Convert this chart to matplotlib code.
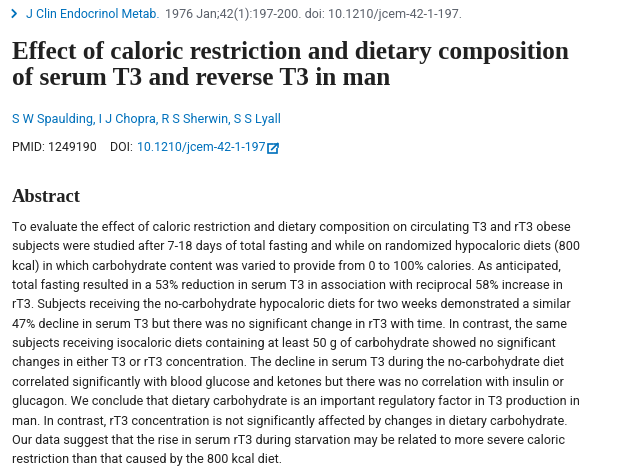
import matplotlib
matplotlib.use("Agg")
import matplotlib.pyplot as plt
from matplotlib.patches import Rectangle

# page content
journal = "J Clin Endocrinol Metab."
citation = "1976 Jan;42(1):197-200. doi: 10.1210/jcem-42-1-197."
title_lines = ["Effect of caloric restriction and dietary composition",
               "of serum T3 and reverse T3 in man"]
authors = "S W Spaulding, I J Chopra, R S Sherwin, S S Lyall"
pmid = "PMID: 1249190"
doi_label = "DOI:"
doi = "10.1210/jcem-42-1-197"
heading = "Abstract"
abstract_lines = [
    "To evaluate the effect of caloric restriction and dietary composition on circulating T3 and rT3 obese",
    "subjects were studied after 7-18 days of total fasting and while on randomized hypocaloric diets (800",
    "kcal) in which carbohydrate content was varied to provide from 0 to 100% calories. As anticipated,",
    "total fasting resulted in a 53% reduction in serum T3 in association with reciprocal 58% increase in",
    "rT3. Subjects receiving the no-carbohydrate hypocaloric diets for two weeks demonstrated a similar",
    "47% decline in serum T3 but there was no significant change in rT3 with time. In contrast, the same",
    "subjects receiving isocaloric diets containing at least 50 g of carbohydrate showed no significant",
    "changes in either T3 or rT3 concentration. The decline in serum T3 during the no-carbohydrate diet",
    "correlated significantly with blood glucose and ketones but there was no correlation with insulin or",
    "glucagon. We conclude that dietary carbohydrate is an important regulatory factor in T3 production in",
    "man. In contrast, rT3 concentration is not significantly affected by changes in dietary carbohydrate.",
    "Our data suggest that the rise in serum rT3 during starvation may be related to more severe caloric",
    "restriction than that caused by the 800 kcal diet.",
]

W, H = 625, 474
DARK = "#212121"
BLUE = "#0071bc"
GRAY = "#5b616b"
SANS = ["Roboto", "DejaVu Sans"]
SERIF = ["Liberation Serif", "DejaVu Serif"]

fig = plt.figure(figsize=(W / 100, H / 100), dpi=100)
fig.patch.set_facecolor("white")
renderer = fig.canvas.get_renderer()


def put(x, y, s, size, family, color=DARK, weight="normal"):
    # x, y in pixels from top-left, y is the baseline
    return fig.text(x / W, 1 - y / H, s, fontsize=size, family=family,
                    color=color, weight=weight, ha="left", va="baseline")


def width(t):
    return t.get_window_extent(renderer).width


def fit(s, target, family, weight="normal"):
    t = fig.text(0, 0, s, fontsize=10, family=family, weight=weight)
    w = width(t)
    t.remove()
    return 10 * target / w


body_size = fit(abstract_lines[0], 556, SANS)
jour_size = fit(journal, 134, SANS)
cit_size = fit(citation, 295, SANS)
auth_size = fit(authors, 268, SANS)
id_size = fit(pmid, 85, SANS)
title_size = fit(title_lines[0], 558, SERIF, "bold")
head_size = fit(heading, 69, SERIF, "bold")

ax_ch = fig.add_axes([0, 0, 1, 1])
ax_ch.set_xlim(0, W)
ax_ch.set_ylim(H, 0)
ax_ch.axis("off")

# journal line
ax_ch.plot([12.5, 16, 12.5], [10, 13.5, 17], color=BLUE, lw=1.3)
t = put(26, 18, journal, jour_size, SANS, BLUE)
put(165, 18, citation, cit_size, SANS, GRAY)

# title
for i, line in enumerate(title_lines):
    put(12, 59 + 26 * i, line, title_size, SERIF, DARK, "bold")

# authors and ids
put(12, 123, authors, auth_size, SANS, BLUE)
t = put(12, 151, pmid, id_size, SANS, DARK)
x = 12 + width(t) + 13
t = put(x, 151, doi_label, id_size, SANS, DARK)
x += width(t) + 4
t = put(x, 151, doi, id_size, SANS, BLUE)
x += width(t) + 3
# external link icon
ax_ch.add_patch(Rectangle((x, 144), 9, 9, fill=False, ec=BLUE, lw=1.2))
ax_ch.add_patch(Rectangle((x + 4.5, 142), 6, 6, fc="white", ec="none"))
ax_ch.plot([x + 3.5, x + 9.5], [149.5, 143.5], color=BLUE, lw=1.2)
ax_ch.plot([x + 6, x + 9.5, x + 9.5], [143.5, 143.5, 147], color=BLUE, lw=1.2)

# abstract
put(12, 202, heading, head_size, SERIF, DARK, "bold")
for i, line in enumerate(abstract_lines):
    put(12, 231 + 19.35 * i, line, body_size, SANS, DARK)

fig.savefig("out.png", dpi=100, facecolor="white")
